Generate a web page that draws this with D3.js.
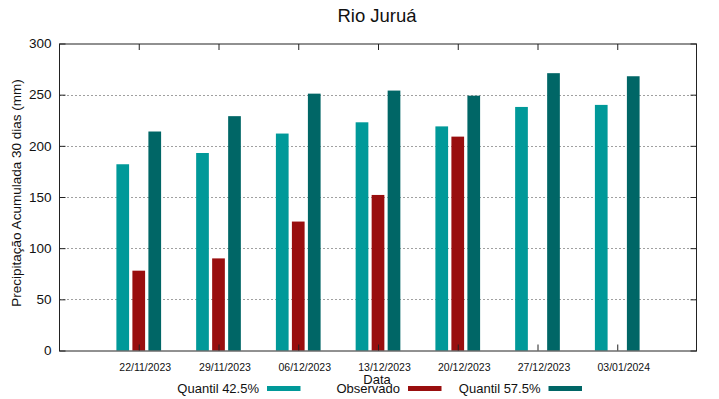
<!DOCTYPE html>
<html>
<head>
<meta charset="utf-8">
<script src="https://cdn.jsdelivr.net/npm/d3@7"></script>
<style>
  html, body { margin: 0; padding: 0; background: #fff; }
  svg { display: block; font-family: "Liberation Sans", Arial, sans-serif; }
</style>
</head>
<body>
<svg id="chart" width="719" height="399"></svg>
<script>
// ---- data ----
const categories = ["22/11/2023", "29/11/2023", "06/12/2023", "13/12/2023", "20/12/2023", "27/12/2023", "03/01/2024"];
const dayOffsets = [0, 7, 14, 21, 28, 35, 42];
const quantil425 = [182, 193, 212, 223, 219, 238, 240];
const observado = [78, 90, 126, 152, 209, null, null];
const quantil575 = [214, 229, 251, 254, 249, 271, 268];
const yTicks = [0, 50, 100, 150, 200, 250, 300];
const seriesNames = ["Quantil 42.5%", "Observado", "Quantil 57.5%"];
const seriesColors = ["#009999", "#990e0e", "#006666"];

const svg = d3.select("#chart");
const margin = { left: 59, right: 22, top: 43.5, bottom: 49 };
const W = 719, H = 399;
const x0 = margin.left, x1 = W - margin.right, y0 = H - margin.bottom, y1 = margin.top;

const x = d3.scaleLinear().domain([-7, 49]).range([x0, x1]);
const y = d3.scaleLinear().domain([0, 300]).range([350.5, y1]);

// gridlines
svg.append("g").selectAll("line").data(yTicks.filter(t => t > 0 && t < 300)).join("line")
  .attr("x1", x0).attr("x2", x1)
  .attr("y1", d => Math.round(y(d)) + 0.5).attr("y2", d => Math.round(y(d)) + 0.5)
  .attr("stroke", "#a0a0a0").attr("stroke-width", 1).attr("stroke-dasharray", "2,2");

// bars
const series = [quantil425, observado, quantil575];
const pitchDays = 16 / (x(1) - x(0));
const barW = 12.7;
series.forEach((vals, si) => {
  svg.append("g").selectAll("rect")
    .data(vals.map((v, i) => ({ v, i })).filter(d => d.v != null))
    .join("rect")
    .attr("x", d => x(dayOffsets[d.i] + (si - 1) * pitchDays) - barW / 2)
    .attr("width", barW)
    .attr("y", d => y(d.v))
    .attr("height", d => y(0) - y(d.v))
    .attr("fill", seriesColors[si]);
});

// frame
svg.append("rect").attr("x", x0 + 0.5).attr("y", y1 + 0.5)
  .attr("width", x1 - x0 - 1).attr("height", 350.5 - y1)
  .attr("fill", "none").attr("stroke", "#222").attr("stroke-width", 1);

// y axis (ticks inward, mirrored)
const yAxisL = d3.axisLeft(y).tickValues(yTicks).tickSize(-6).tickPadding(8).tickFormat(d3.format("d"));
const gL = svg.append("g").attr("transform", `translate(${x0 + 0.5},0)`).call(yAxisL);
gL.select(".domain").remove();
gL.selectAll("line").attr("stroke", "#222");
gL.selectAll("text").attr("font-size", "13.5px").attr("fill", "#111").attr("font-family", "Liberation Sans, Arial, sans-serif");
const gR = svg.append("g").attr("transform", `translate(${x1 - 0.5},0)`)
  .call(d3.axisRight(y).tickValues(yTicks).tickSize(-6).tickFormat(""));
gR.select(".domain").remove();
gR.selectAll("line").attr("stroke", "#222");

// x axis ticks (inward, mirrored)
const gB = svg.append("g").attr("transform", `translate(0,${350.5})`)
  .call(d3.axisBottom(x).tickValues(dayOffsets).tickSize(-6).tickFormat(""));
gB.select(".domain").remove();
gB.selectAll("line").attr("stroke", "#222");
const gT = svg.append("g").attr("transform", `translate(0,${y1 + 0.5})`)
  .call(d3.axisTop(x).tickValues(dayOffsets).tickSize(-6).tickFormat(""));
gT.select(".domain").remove();
gT.selectAll("line").attr("stroke", "#222");

// x tick labels
svg.append("g").selectAll("text").data(categories).join("text")
  .attr("x", (d, i) => x(dayOffsets[i]) + 6.5)
  .attr("y", 371)
  .attr("text-anchor", "middle")
  .attr("font-size", "10.5px").attr("fill", "#111")
  .text(d => d);

// title
svg.append("text").attr("x", 377).attr("y", 22).attr("text-anchor", "middle")
  .attr("font-size", "18.5px").attr("fill", "#111").text("Rio Juruá");

// axis titles
svg.append("text").attr("x", 377).attr("y", 384).attr("text-anchor", "middle")
  .attr("font-size", "13px").attr("fill", "#111").text("Data");
svg.append("text").attr("transform", "translate(21,193) rotate(-90)").attr("text-anchor", "middle")
  .attr("font-size", "13.5px").attr("fill", "#111").text("Precipitação Acumulada 30 dias (mm)");

// legend
const legendTextRight = [259, 400, 540.5];
const legendSwatchX = [267, 408, 548.5];
seriesNames.forEach((n, i) => {
  svg.append("text").attr("x", legendTextRight[i]).attr("y", 392.5).attr("text-anchor", "end")
    .attr("font-size", "13px").attr("fill", "#111").text(n);
  svg.append("rect").attr("x", legendSwatchX[i]).attr("y", 386).attr("width", 33.5).attr("height", 5)
    .attr("fill", seriesColors[i]);
});
</script>
</body>
</html>
